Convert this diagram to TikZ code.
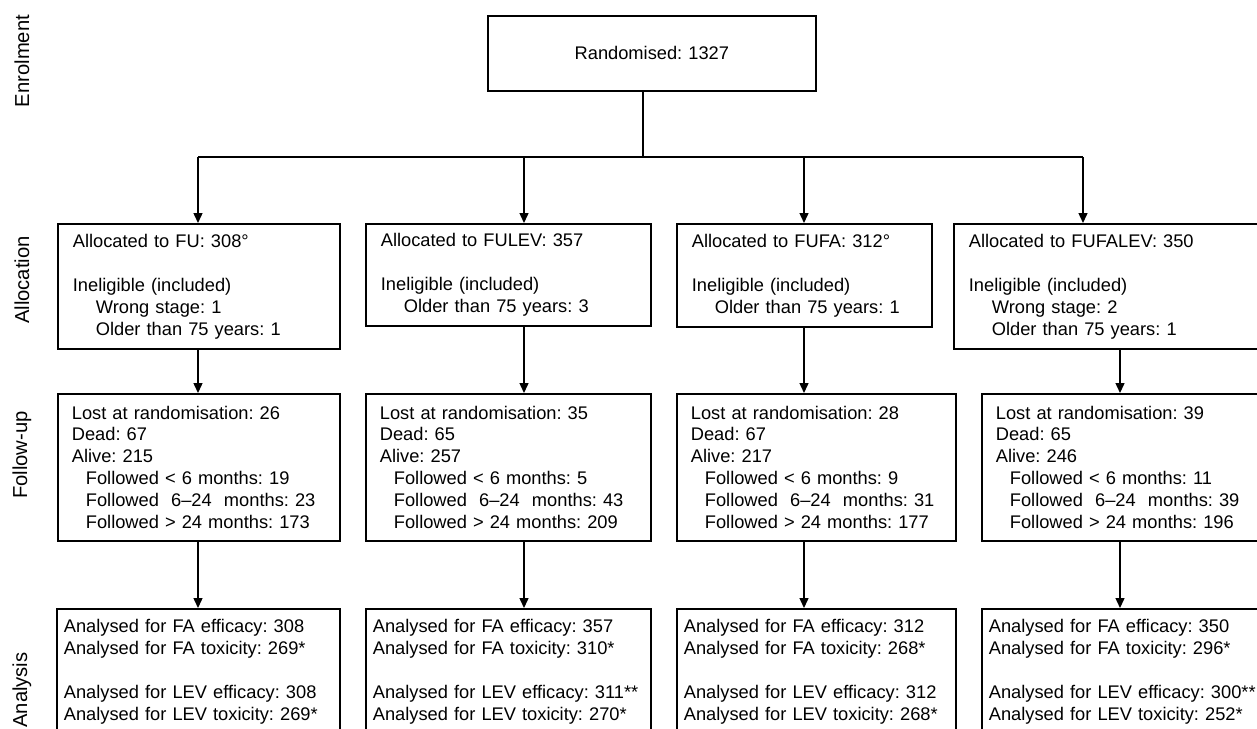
\documentclass[tikz,border=0pt]{standalone}
\usepackage{fontspec}
\setmainfont{Liberation Sans}
\usetikzlibrary{arrows.meta}
\frenchspacing

\newcommand{\indA}{\hspace*{0.46cm}}
\newcommand{\indB}{\hspace*{0.28cm}}

\begin{document}
\begin{tikzpicture}[x=0.02cm,y=-0.02cm,
  every node/.style={font=\fontsize{10.4}{12.5}\selectfont},
  box/.style={draw,line width=1pt,anchor=north west,align=left,inner ysep=0pt},
  allocbox/.style={box,inner xsep=0.3cm},
  followbox/.style={box,inner xsep=0.28cm,minimum height=2.94cm},
  analysbox/.style={box,inner xsep=0.14cm,minimum height=2.5cm},
  stage/.style={rotate=90,font=\fontsize{11.5}{14}\selectfont},
  link/.style={line width=0.8pt},
  arr/.style={link,-{Triangle[length=0.2cm,width=0.18cm]}}]
\useasboundingbox (0,0) rectangle (1257,728);
\clip (0,0) rectangle (1257,728);
% ---- stage labels ----
\node[stage] (lblenrol) at (22,61) {Enrolment};
\node[stage] (lblalloc) at (22,280) {Allocation};
\node[stage] (lblfollow) at (22,455) {Follow-up};
\node[stage] (lblanalys) at (22,690) {Analysis};
% ---- enrolment ----
\node[box,align=center,text width=6.56cm,inner xsep=0pt,minimum height=1.5cm] (rand) at (487,15) {Randomised: 1327};
\coordinate (split) at (643,157);
\coordinate (t1) at (198,157);
\coordinate (t2) at (524,157);
\coordinate (t3) at (804,157);
\coordinate (t4) at (1083,157);
\coordinate (m1) at (198,0);
\coordinate (m2) at (524,0);
\coordinate (m3) at (804,0);
\coordinate (m4) at (1120,0);
% ---- allocation ----
\node[allocbox,text width=5.04cm,minimum height=2.5cm] (al1) at (57,223) {Allocated to FU: 308°\\[12.5pt]Ineligible (included)\\\indA Wrong stage: 1\\\indA Older than 75 years: 1};
\node[allocbox,text width=5.10cm,minimum height=2.04cm] (al2) at (365,223) {Allocated to FULEV: 357\\[12.5pt]Ineligible (included)\\\indA Older than 75 years: 3};
\node[allocbox,text width=4.5cm,minimum height=2.06cm] (al3) at (676,223) {Allocated to FUFA: 312°\\[12.5pt]Ineligible (included)\\\indA Older than 75 years: 1};
\node[allocbox,text width=6.14cm,minimum height=2.5cm] (al4) at (953,223) {Allocated to FUFALEV: 350\\[12.5pt]Ineligible (included)\\\indA Wrong stage: 2\\\indA Older than 75 years: 1};
% ---- follow-up ----
\node[followbox,text width=5.08cm] (fu1) at (57,393) {Lost at randomisation: 26\\Dead: 67\\Alive: 215\\\indB Followed < 6 months: 19\\\indB Followed~~6--24~~months: 23\\\indB Followed > 24 months: 173};
\node[followbox,text width=5.14cm] (fu2) at (365,393) {Lost at randomisation: 35\\Dead: 65\\Alive: 257\\\indB Followed < 6 months: 5\\\indB Followed~~6--24~~months: 43\\\indB Followed > 24 months: 209};
\node[followbox,text width=5.02cm] (fu3) at (676,393) {Lost at randomisation: 28\\Dead: 67\\Alive: 217\\\indB Followed < 6 months: 9\\\indB Followed~~6--24~~months: 31\\\indB Followed > 24 months: 177};
\node[followbox,text width=5.06cm] (fu4) at (981,393) {Lost at randomisation: 39\\Dead: 65\\Alive: 246\\\indB Followed < 6 months: 11\\\indB Followed~~6--24~~months: 39\\\indB Followed > 24 months: 196};
% ---- analysis ----
\node[analysbox,text width=5.38cm] (an1) at (56,608) {Analysed for FA efficacy: 308\\Analysed for FA toxicity: 269*\\[12.5pt]Analysed for LEV efficacy: 308\\Analysed for LEV toxicity: 269*};
\node[analysbox,text width=5.42cm] (an2) at (365,608) {Analysed for FA efficacy: 357\\Analysed for FA toxicity: 310*\\[12.5pt]Analysed for LEV efficacy: 311**\\Analysed for LEV toxicity: 270*};
\node[analysbox,text width=5.30cm] (an3) at (676,608) {Analysed for FA efficacy: 312\\Analysed for FA toxicity: 268*\\[12.5pt]Analysed for LEV efficacy: 312\\Analysed for LEV toxicity: 268*};
\node[analysbox,text width=5.8cm] (an4) at (981,608) {Analysed for FA efficacy: 350\\Analysed for FA toxicity: 296*\\[12.5pt]Analysed for LEV efficacy: 300**\\Analysed for LEV toxicity: 252*};
% ---- connectors ----
\draw[link] (rand.south -| split) -- (split);
\draw[link] (t1) -- (t4);
\foreach \i in {1,...,4} {
  \draw[arr] (t\i) -- (al\i.north -| t\i);
  \draw[arr] (al\i.south -| m\i) -- (fu\i.north -| m\i);
  \draw[arr] (fu\i.south -| m\i) -- (an\i.north -| m\i);
}
\end{tikzpicture}
\end{document}
